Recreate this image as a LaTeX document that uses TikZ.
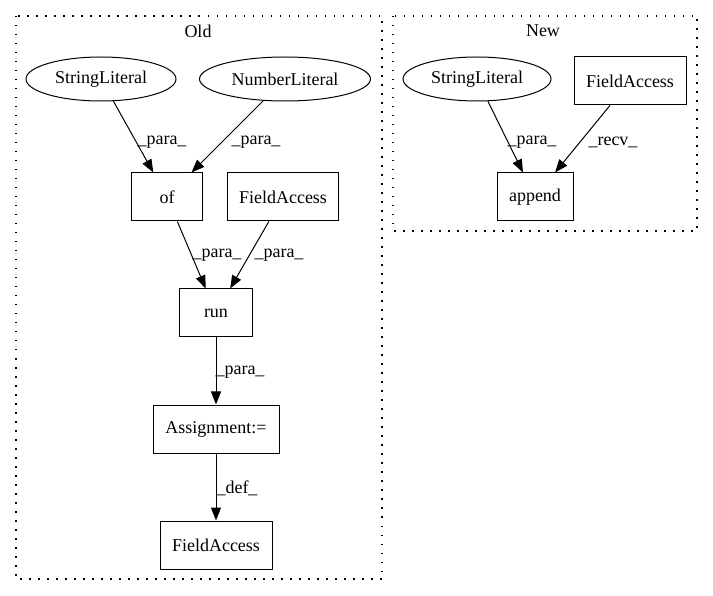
\documentclass[tikz,border=0pt]{standalone}
\usepackage{fontspec}
\setmainfont{Liberation Serif}
\usetikzlibrary{shapes.geometric,arrows.meta}
\begin{document}
\begin{tikzpicture}[x=1pt,y=-1pt, font=\fontsize{18}{20}\selectfont,
 box/.style={draw, line width=1pt, rectangle, inner sep=0pt, minimum height=48pt},
 ell/.style={draw, line width=1pt, ellipse, inner sep=0pt, minimum height=44pt},
 edge/.style={-{Triangle[length=13pt,width=10pt]}, line width=1pt},
 lbl/.style={inner sep=0pt},
 cluster/.style={draw, line width=1.2pt, dash pattern=on 1.5pt off 7.5pt}]
\useasboundingbox (0,0) rectangle (713,596);
% clusters
\draw[cluster] (16,16) rectangle (382,579);
\draw[cluster] (393,16) rectangle (697,231);
\node[lbl] (oldlbl) at (198,31) {Old};
\node[lbl] (newlbl) at (543,31) {New};
% Old nodes
\node[ell, minimum width=150pt] (sl1) at (101,79) {StringLiteral};
\node[ell, minimum width=171pt] (nl) at (285,79) {NumberLiteral};
\node[box, minimum width=71pt] (of) at (167,197) {of};
\node[box, minimum width=111pt] (fa1) at (283,197) {FieldAccess};
\node[box, minimum width=73pt] (run) at (216,313) {run};
\node[box, minimum width=126pt] (asg) at (216,429) {Assignment:=};
\node[box, minimum width=112pt] (fa2) at (216,545) {FieldAccess};
% New nodes
\node[ell, minimum width=148pt] (sl2) at (477,79) {StringLiteral};
\node[box, minimum width=112pt] (fa3) at (630,81) {FieldAccess};
\node[box, minimum width=76pt] (app) at (535,197) {append};
% edges
\draw[edge] (sl1) -- (of);
\draw[edge] (nl) -- (of);
\draw[edge] (of) -- (run);
\draw[edge] (fa1) -- (run);
\draw[edge] (run) -- (asg);
\draw[edge] (asg) -- (fa2);
\draw[edge] (sl2) -- (app);
\draw[edge] (fa3) -- (app);
% edge labels
\node[lbl] (l1) at (162,142) {\_para\_};
\node[lbl] (l2) at (256,142) {\_para\_};
\node[lbl] (l3) at (217,255) {\_para\_};
\node[lbl] (l4) at (279,255) {\_para\_};
\node[lbl] (l5) at (240,372) {\_para\_};
\node[lbl] (l6) at (237,488) {\_def\_};
\node[lbl] (l7) at (532,142) {\_para\_};
\node[lbl] (l8) at (613,142) {\_recv\_};
\end{tikzpicture}
\end{document}
